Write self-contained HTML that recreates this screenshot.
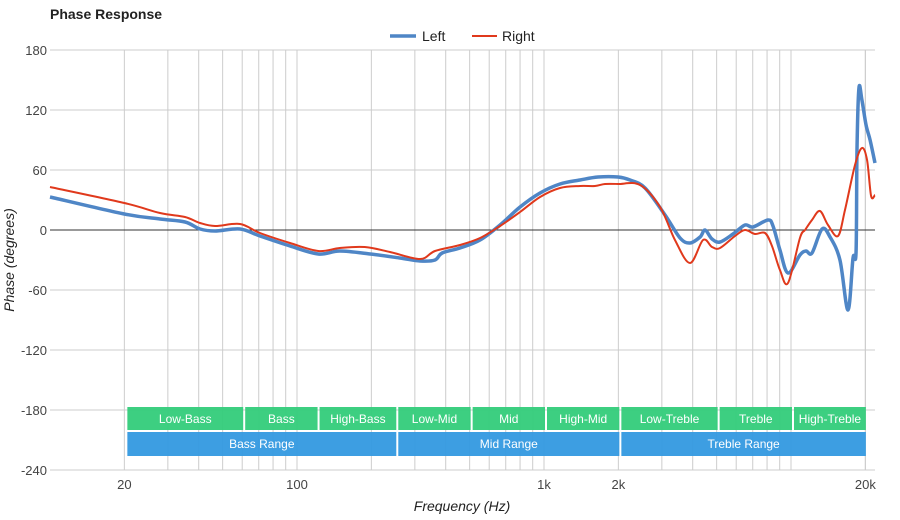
<!DOCTYPE html>
<html><head><meta charset="utf-8"><style>
body{margin:0;background:#fff;}
svg{display:block;font-family:"Liberation Sans",sans-serif;}
</style></head><body>
<svg id="c" width="900" height="520"></svg>
<script>
const yTicks=[180,120,60,0,-60,-120,-180,-240];
const xTickVals=[20,100,1000,2000,20000];
const xTickLabels=["20","100","1k","2k","20k"];
const leftFreq=[10,20,27.9,35.2,40.5,46.6,58.8,70.8,93.7,122,149,198,261,315,362,387,457,551,664,800,964,1161,1400,1655,1995,2230,2565,3091,3555,3900,4285,4487,4789,5161,5825,6510,7015,8070,8455,9020,9725,10870,11500,12160,13360,14390,15780,17010,17830,18340,18500,18840,19370,20130,20900,21880];
const leftPhase=[33,16,11,8,1,-1,1,-6,-16,-24,-21,-24,-28,-31,-30,-23,-18,-10,5,23,37,46,50,53,53,50,42,15,-8,-13,-7,0,-9,-12,-4,5,3,10,4,-20,-43,-25,-21,-23,1,-7,-30,-80,-28,-22,80,142,130,105,90,67];
const rightFreq=[10,20,27.9,35.2,40.5,46.6,58.8,70.8,93.7,122,149,188,238,315,362,457,551,664,800,964,1161,1400,1608,1766,1995,2450,2951,3390,3900,4405,4789,5161,5934,6510,7145,7850,8375,9020,9725,10870,11400,12160,13100,14120,15500,16540,18160,19370,20320,21100,21880];
const rightPhase=[43,27,17,13,7,4,6,-3,-13,-21,-18,-17,-22,-29,-21,-15,-8,4,18,33,42,44,44,46,46,45,23,-10,-33,-10,-17,-18,-6,0,-4,-3,-16,-40,-53,-8,0,10,19,5,-6,20,65,82,70,34,35];
const bandsTop=[["Low-Bass",20,60],["Bass",60,120],["High-Bass",120,250],["Low-Mid",250,500],["Mid",500,1000],["High-Mid",1000,2000],["Low-Treble",2000,5000],["Treble",5000,10000],["High-Treble",10000,20000]];
const bandsBottom=[["Bass Range",20,250],["Mid Range",250,2000],["Treble Range",2000,20000]];

const NS="http://www.w3.org/2000/svg";
const svg=document.getElementById('c');
const L=50,R=875,T=50,B=470;
const X=f=>L+(Math.log10(f)-1)*247;
const Y=v=>T+(180-v)*(B-T)/420;
function el(t,a,p){const e=document.createElementNS(NS,t);for(const k in a)e.setAttribute(k,a[k]);(p||svg).appendChild(e);return e;}
for(let d=10;d<=10000;d*=10){for(let m=(d===10?2:1);m<=9;m++){const f=d*m;if(f<20)continue;const x=X(f);
 const g=el('line',{x1:x,x2:x,y1:T,y2:B,stroke:'#ccc','stroke-width':1});
 }}
{const x=X(20000);const g=el('line',{x1:x,x2:x,y1:T,y2:B,stroke:'#ccc','stroke-width':1});}
yTicks.forEach(v=>{const y=Y(v);
 const g=el('line',{x1:L,x2:R,y1:y,y2:y,stroke:v===0?'#333':'#ccc','stroke-width':1});
 
 const t=el('text',{x:47,y:y+5,'text-anchor':'end','font-size':13,fill:'#444'});t.textContent=v;
 });
xTickVals.forEach((f,i)=>{const t=el('text',{x:X(f),y:489,'text-anchor':'middle','font-size':13,fill:'#444'});t.textContent=xTickLabels[i];
 });
function band(b,y,h,col){const x1=X(b[1])+3,x2=X(b[2])+(b[2]===20000?0.5:1);
 const r=el('rect',{x:x1,y:y,width:x2-x1,height:h,fill:col,'fill-opacity':0.95});
 
 const t=el('text',{x:(x1+x2)/2,y:y+16,'text-anchor':'middle','font-size':12,fill:'#fff'});t.textContent=b[0];
 }
bandsTop.forEach(b=>band(b,407,23,'#33cc7a'));
bandsBottom.forEach(b=>band(b,432,24,'#3399e0'));
function path(fr,ph){const p=fr.map((f,i)=>[X(f),Y(ph[i])]);let d='M'+p[0][0]+','+p[0][1];
 for(let i=0;i<p.length-1;i++){const p0=p[i-1]||p[i],p1=p[i],p2=p[i+1],p3=p[i+2]||p2;const k=1/6;
  d+=' C'+(p1[0]+(p2[0]-p0[0])*k)+','+(p1[1]+(p2[1]-p0[1])*k)+' '+(p2[0]-(p3[0]-p1[0])*k)+','+(p2[1]-(p3[1]-p1[1])*k)+' '+p2[0]+','+p2[1];}
 return d;}
const lp=el('path',{d:path(leftFreq,leftPhase),fill:'none',stroke:'#4f86c6','stroke-width':3.5,'stroke-linejoin':'round'});

const rp=el('path',{d:path(rightFreq,rightPhase),fill:'none',stroke:'#e0391c','stroke-width':2,'stroke-linejoin':'round'});

</script>
<svg width="900" height="520" style="position:absolute;left:0;top:0;font-family:'Liberation Sans',sans-serif">
<text x="50" y="19" font-size="14" font-weight="bold" fill="#222">Phase Response</text>
<g><line x1="390" x2="416" y1="36" y2="36" stroke="#4f86c6" stroke-width="3.5"/><text x="422" y="41" font-size="14" fill="#222">Left</text></g>
<g><line x1="472" x2="497" y1="36" y2="36" stroke="#e0391c" stroke-width="2"/><text x="502" y="41" font-size="14" fill="#222">Right</text></g>
<text x="462" y="511" text-anchor="middle" font-size="14" font-style="italic" fill="#222">Frequency (Hz)</text>
<text transform="translate(14,260) rotate(-90)" text-anchor="middle" font-size="14" font-style="italic" fill="#222">Phase (degrees)</text>
</svg>
</body></html>
